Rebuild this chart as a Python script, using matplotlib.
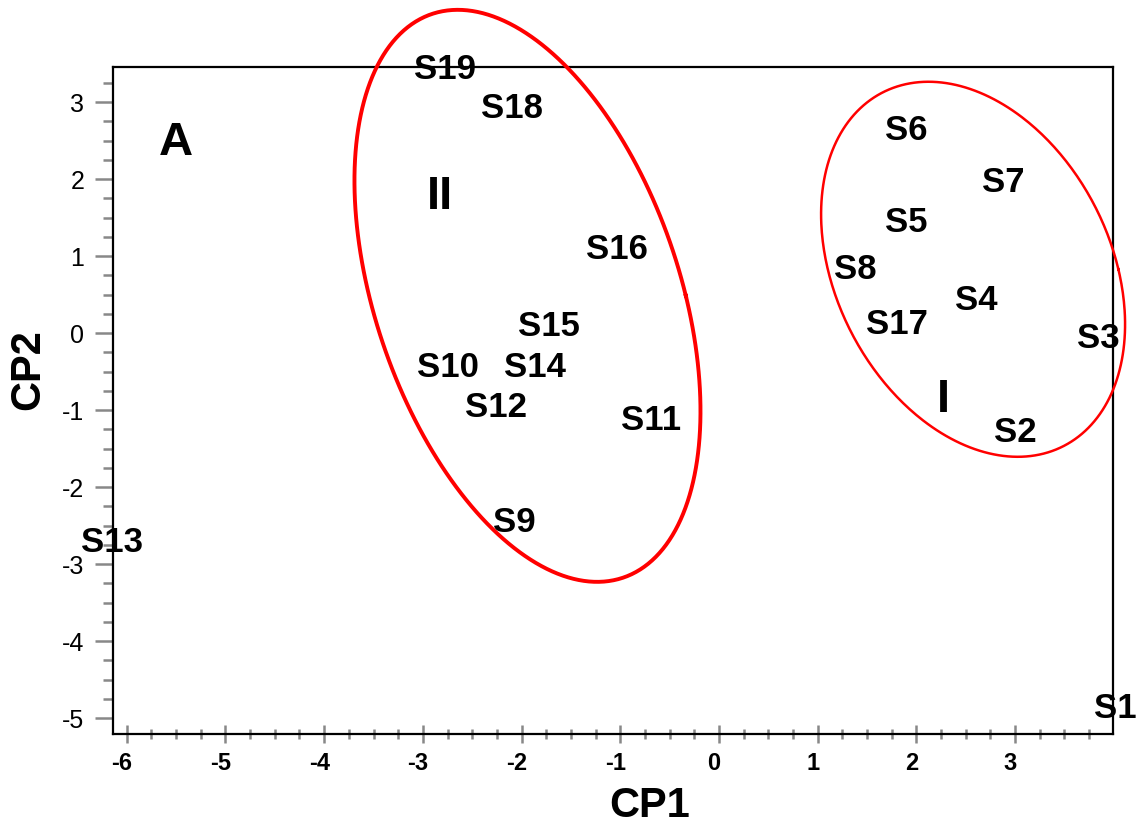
import numpy as np
import matplotlib
matplotlib.use("Agg")
import matplotlib.pyplot as plt
from matplotlib.ticker import MultipleLocator
from matplotlib.transforms import ScaledTranslation

plt.rcParams['font.family'] = ['Liberation Sans', 'DejaVu Sans']
plt.rcParams['axes.unicode_minus'] = False

# sample labels and scores
samples = ["S1", "S2", "S3", "S4", "S5", "S6", "S7", "S8", "S9", "S10",
           "S11", "S12", "S13", "S14", "S15", "S16", "S17", "S18", "S19"]
cp1 = [4.02, 3.00, 3.84, 2.61, 1.90, 1.90, 2.88, 1.38, -2.07, -2.75,
       -0.69, -2.26, -6.15, -1.86, -1.72, -1.03, 1.80, -2.10, -2.78]
cp2 = [-4.84, -1.25, -0.03, 0.46, 1.47, 2.67, 1.99, 0.87, -2.42, -0.41,
       -1.09, -0.93, -2.68, -0.41, 0.13, 1.13, 0.15, 2.96, 3.46]

# group labels
group_names = ["A", "II", "I"]
group_x = [-5.50, -2.83, 2.27]
group_y = [2.51, 1.80, -0.83]

# group ellipses: centre x, centre y, half-width, half-height, x-offset of top point
ell_cx = [-1.94, 2.575]
ell_cy = [0.484, 0.829]
ell_hw = [1.753, 1.540]
ell_hh = [3.714, 2.435]
ell_p = [-0.706, -0.452]
ell_lw = [2.8, 1.8]

fig = plt.figure(figsize=(11.38, 8.25), dpi=100)
ax = fig.add_axes([0.0996, 0.1099, 0.8782, 0.8093])
ax.set_xlim(-6.136, 3.99)
ax.set_ylim(-5.21, 3.46)

shift = ax.transData + ScaledTranslation(0, -3 / 100, fig.dpi_scale_trans)
for s, x, y in zip(samples, cp1, cp2):
    ax.text(x, y, s, ha='center', va='center', fontsize=25, fontweight='bold',
            clip_on=False, zorder=5, transform=shift)

for g, x, y in zip(group_names, group_x, group_y):
    ax.text(x, y, g, ha='center', va='center', fontsize=34, fontweight='bold',
            clip_on=False, zorder=5, transform=shift)

t = np.linspace(0, 2 * np.pi, 400)
for cx, cy, hw, hh, p, lw in zip(ell_cx, ell_cy, ell_hw, ell_hh, ell_p, ell_lw):
    q = np.sqrt(hw ** 2 - p ** 2)
    ex = cx + p * np.sin(t) + q * np.cos(t)
    ey = cy + hh * np.sin(t)
    ax.plot(ex, ey, color='#ff0000', lw=lw, clip_on=False, zorder=4)

for sp in ax.spines.values():
    sp.set_linewidth(1.6)
    sp.set_color('black')

ax.xaxis.set_major_locator(MultipleLocator(1))
ax.xaxis.set_minor_locator(MultipleLocator(0.25))
ax.yaxis.set_major_locator(MultipleLocator(1))
ax.yaxis.set_minor_locator(MultipleLocator(0.25))

ax.tick_params(axis='x', which='major', direction='inout', length=13, width=1.8,
               color='#888888', labelsize=17, pad=6)
ax.tick_params(axis='x', which='minor', direction='inout', length=7, width=1.8,
               color='#888888')
ax.tick_params(axis='y', which='major', direction='out', length=13, width=1.8,
               color='#888888', labelsize=18, pad=8)
ax.tick_params(axis='y', which='minor', direction='out', length=7, width=1.8,
               color='#888888')
lab_shift = ScaledTranslation(-5 / 100, 0, fig.dpi_scale_trans)
for lab in ax.get_xticklabels():
    lab.set_fontweight('bold')
    lab.set_transform(lab.get_transform() + lab_shift)

ax.set_xlabel("CP1", fontsize=30, fontweight='bold')
ax.set_ylabel("CP2", fontsize=30, fontweight='bold')
ax.xaxis.set_label_coords(0.537, -0.077)
ax.yaxis.set_label_coords(-0.065, 0.546)

fig.savefig("out.png", dpi=100)
